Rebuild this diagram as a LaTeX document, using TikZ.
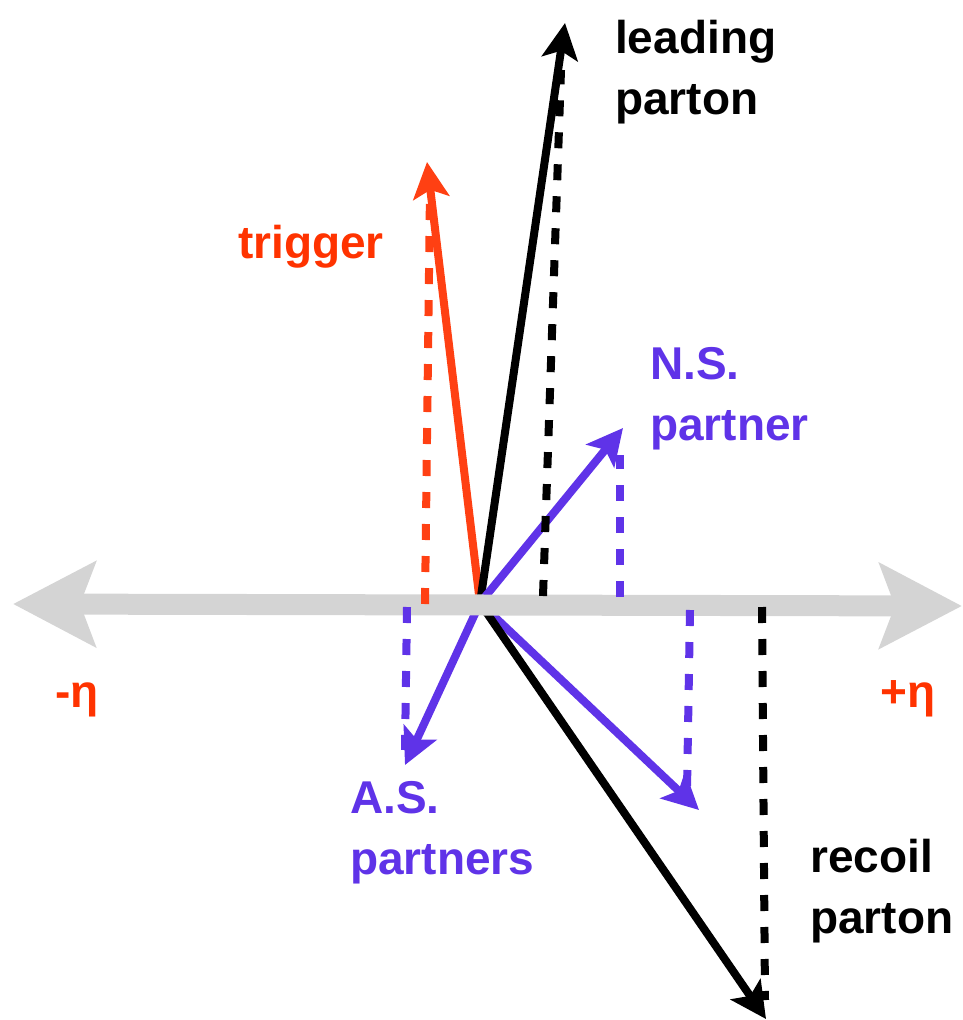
\documentclass[tikz,border=0pt]{standalone}
\usepackage{fontspec}
\setmainfont{Liberation Sans}
\usetikzlibrary{arrows.meta}
\definecolor{trig}{HTML}{FF4013}
\definecolor{trigtxt}{HTML}{FF3300}
\definecolor{purp}{HTML}{5F33E8}
\definecolor{axgrey}{HTML}{D4D4D4}
\tikzset{
  vec/.style={line width=8pt, -{Stealth[length=36pt,width=36pt,inset=8pt]}},
  proj/.style={line width=8pt, dash pattern=on 16pt off 16pt},
  lbl/.style={font=\fontsize{46}{61}\selectfont\bfseries, anchor=base west, inner sep=0pt, align=left},
  axis/.style={line width=21pt, color=axgrey, {Stealth[length=82pt,width=84pt,inset=15pt]}-{Stealth[length=82pt,width=84pt,inset=15pt]}}
}
\begin{document}
\begin{tikzpicture}[x=1pt,y=-1pt]
\useasboundingbox (0,0) rectangle (962,1020);
% origin and tips
\coordinate (O) at (480,603);
\coordinate (trigT) at (427,162);
\coordinate (leadT) at (565,23);
\coordinate (nsT) at (623,428);
\coordinate (asLT) at (405,765);
\coordinate (asRT) at (699,810);
\coordinate (recT) at (766,1019);
% axis ends
\coordinate (axL) at (13,604);
\coordinate (axR) at (962,606);
% projection ends
\coordinate (trigB) at (425,604);  \coordinate (trigU) at (430,190);
\coordinate (leadB) at (543,596);  \coordinate (leadU) at (561,70);
\coordinate (nsB) at (620,597);    \coordinate (nsU) at (620,455);
\coordinate (asLB) at (407,607);   \coordinate (asLU) at (405,750);
\coordinate (asRB) at (690,610);   \coordinate (asRU) at (687,790);
\coordinate (recB) at (762,607);   \coordinate (recU) at (765,1000);
% solid vectors
\draw[vec, trig] (O) -- (trigT);
\draw[vec, black] (O) -- (leadT);
\draw[vec, purp] (O) -- (nsT);
\draw[vec, purp] (O) -- (asLT);
\draw[vec, purp] (O) -- (asRT);
\draw[vec, black] (O) -- (recT);
% axis
\draw[axis] (axL) -- (axR);
% projections
\draw[proj, trig] (trigB) -- (trigU);
\draw[proj, black] (leadB) -- (leadU);
\draw[proj, purp] (nsB) -- (nsU);
\draw[proj, purp] (asLB) -- (asLU);
\draw[proj, purp] (asRB) -- (asRU);
\draw[proj, black] (recB) -- (recU);
% labels (anchor = baseline of last line)
\node[lbl] (leadL) at (615,114) {leading\\parton};
\node[lbl, text=trigtxt] (trigL) at (238,258) {trigger};
\node[lbl, text=purp] (nsL) at (650,440) {N.S.\\partner};
\node[lbl, text=purp] (asL) at (350,874) {A.S.\\partners};
\node[lbl] (recL) at (810,933) {recoil\\parton};
\node[lbl, text=trigtxt] (etaM) at (55,707) {-η};
\node[lbl, text=trigtxt] (etaP) at (880,707) {+η};
\end{tikzpicture}
\end{document}
